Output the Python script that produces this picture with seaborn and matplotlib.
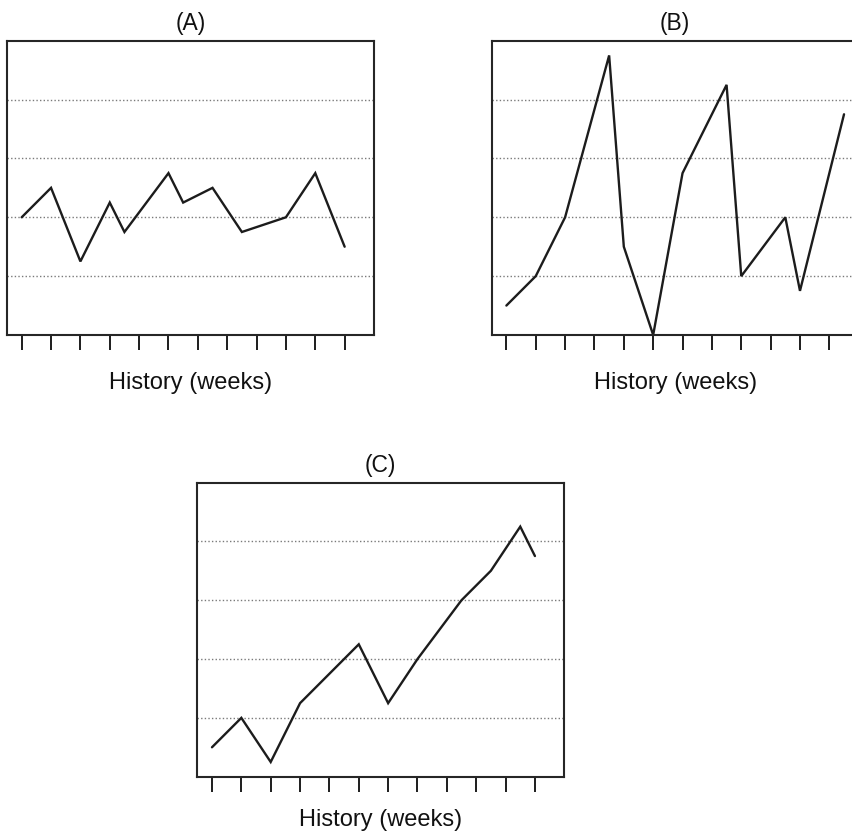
import matplotlib
matplotlib.use("Agg")
import matplotlib.pyplot as plt
import pandas as pd
import seaborn as sns

# Weekly history series for the three panels (x in weeks, y in level units)
weeks_a = [0, 1, 2, 3, 3.5, 5, 5.5, 6.5, 7.5, 9, 10, 11]
level_a = [2.0, 2.5, 1.25, 2.25, 1.75, 2.75, 2.25, 2.5, 1.75, 2.0, 2.75, 1.5]

weeks_b = [0, 1, 2, 3.5, 4, 5, 6, 7.5, 8, 9.5, 10, 11.5]
level_b = [0.5, 1.0, 2.0, 4.75, 1.5, 0.0, 2.75, 4.25, 1.0, 2.0, 0.75, 3.75]

weeks_c = [0, 1, 2, 3, 5, 6, 7, 8.5, 9.5, 10.5, 11]
level_c = [0.5, 1.0, 0.25, 1.25, 2.25, 1.25, 2.0, 3.0, 3.5, 4.25, 3.75]

tick_weeks = list(range(12))
grid_levels = [1, 2, 3, 4]
panel_titles = ["(A)", "(B)", "(C)"]
x_label = "History (weeks)"

sns.set_style("white")
plt.rcParams["font.family"] = ["Liberation Sans", "DejaVu Sans"]

W, H = 853, 831
fig = plt.figure(figsize=(W / 100, H / 100), dpi=100)


def frac(left, top, right, bottom):
    return [left / W, 1 - bottom / H, (right - left) / W, (bottom - top) / H]


panels = [
    (weeks_a, level_a, frac(7, 40.7, 374, 335), 16),
    (weeks_b, level_b, frac(491.7, 40.7, 858.7, 335), 16),
    (weeks_c, level_c, frac(197.3, 482.5, 564.3, 776.7), 12.4),
]

ink = "#1c1c1c"
for (wk, lv, pos, lpad), title in zip(panels, panel_titles):
    ax = fig.add_axes(pos)
    df = pd.DataFrame({"week": wk, "level": lv})
    sns.lineplot(data=df, x="week", y="level", ax=ax, color=ink,
                 linewidth=1.7, estimator=None, sort=False)
    for ln in ax.lines:
        ln.set_clip_on(False)
        ln.set_solid_joinstyle("miter")
    ax.set_xlim(-0.5, 12)
    ax.set_ylim(0, 5)
    ax.set_xticks(tick_weeks)
    ax.set_yticks(grid_levels)
    ax.tick_params(axis="x", direction="out", length=10.8, width=1.4,
                   color=ink, labelbottom=False, bottom=True)
    ax.tick_params(axis="y", length=0, labelleft=False)
    ax.grid(False)
    ax.yaxis.grid(True, linestyle=(0, (1, 1.6)), color="#7a7a7a", linewidth=1.0)
    for sp in ax.spines.values():
        sp.set_visible(True)
        sp.set_color("#262626")
        sp.set_linewidth(1.5)
    ax.set_ylabel("")
    ax.set_xlabel(x_label, fontsize=17, labelpad=lpad, color="#111111")
    ax.set_title(title, fontsize=16.5, pad=7.5, color="#111111")

fig.savefig("out.png", dpi=100)
